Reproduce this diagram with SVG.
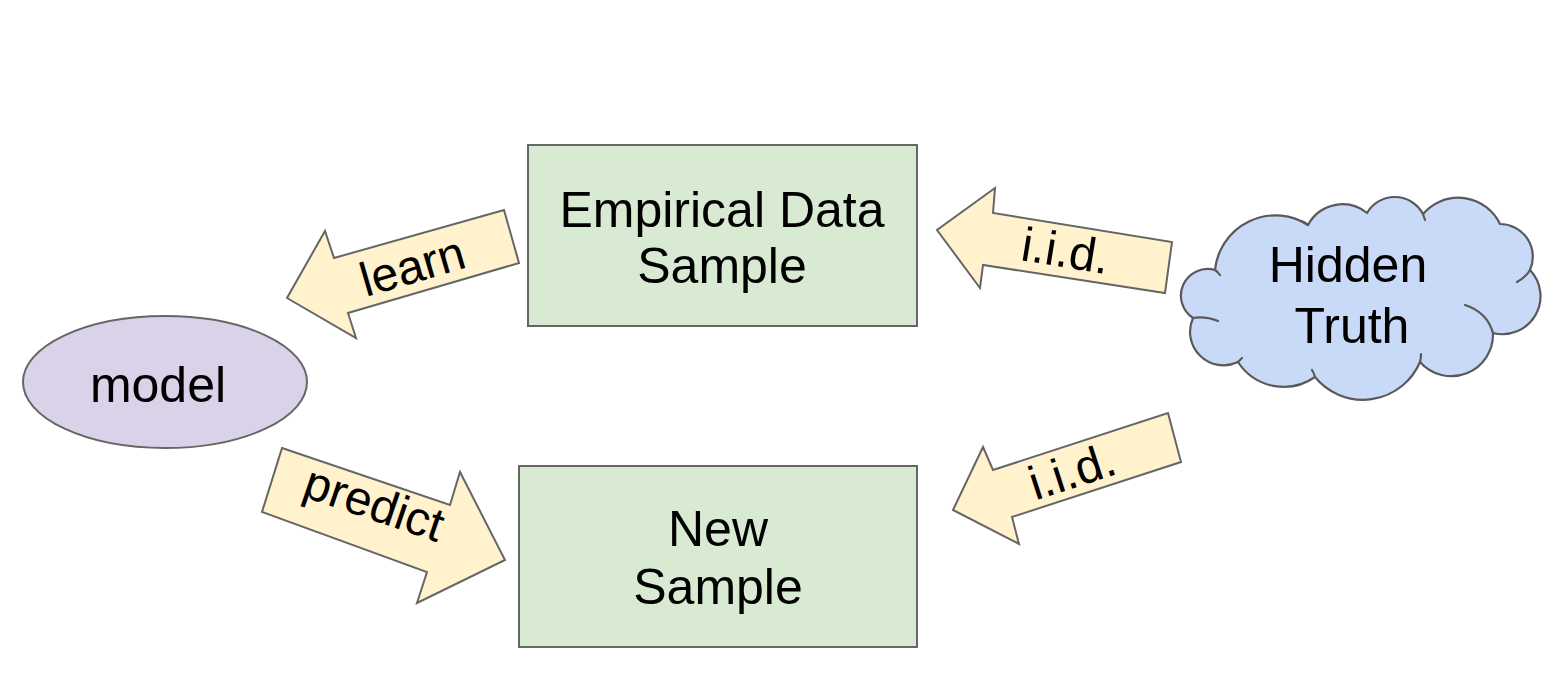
<svg xmlns="http://www.w3.org/2000/svg" width="1554" height="674" viewBox="0 0 1554 674">
<style>
.box{fill:#d9ead3;stroke:#666666;stroke-width:2}
.arrow{fill:#fff2cc;stroke:#666666;stroke-width:2;stroke-linejoin:miter}
.ell{fill:#d9d2e9;stroke:#666666;stroke-width:2}
.cloud{fill:#c9daf8;stroke:#595959;stroke-width:2.2;stroke-linejoin:round}
.tail{fill:none;stroke:#595959;stroke-width:2.2;stroke-linecap:round}
.t{font-family:"Liberation Sans",Arial,Helvetica,sans-serif;font-size:50px;fill:#000;text-anchor:middle}
.a{font-family:"Liberation Sans",Arial,Helvetica,sans-serif;font-size:48px;fill:#000;text-anchor:middle}
</style>
<rect width="1554" height="674" fill="#ffffff"/>
<g id="connectors">
  <g id="learn">
    <polygon class="arrow" points="504,210 519,263 348,313 356,338 287,298 325,231 334,258"/>
    <text class="a" transform="translate(417,282) rotate(-16.2)">learn</text>
  </g>
  <g id="iid-top">
    <polygon class="arrow" points="1172,242 1165,293 983,265 980,288 937,230 995,188 993,213"/>
    <text class="a" transform="translate(1063,267) rotate(9.3)">i.i.d.</text>
  </g>
  <g id="predict">
    <polygon class="arrow" points="282,448 450,505 460,472 505,560 417,603 427,572 262,512"/>
    <text class="a" transform="translate(369,519) rotate(18.8)">predict</text>
  </g>
  <g id="iid-bottom">
    <polygon class="arrow" points="1168,413 1181,462 1012,517 1019,544 953,510 983,447 993,470"/>
    <text class="a" transform="translate(1077,487) rotate(-18)">i.i.d.</text>
  </g>
</g>
<g id="empirical">
  <rect class="box" x="528" y="145" width="389" height="181"/>
  <text class="t" x="722" y="227">Empirical Data</text>
  <text class="t" x="722" y="283">Sample</text>
</g>
<g id="new-sample">
  <rect class="box" x="519" y="466" width="398" height="181"/>
  <text class="t" x="718" y="546">New</text>
  <text class="t" x="718" y="604">Sample</text>
</g>
<g id="model">
  <ellipse class="ell" cx="165" cy="382" rx="142" ry="66"/>
  <text class="t" x="158" y="402">model</text>
</g>
<g id="hidden-truth">
  <path class="cloud" d="M1215,270 A60.6,60.6 0 0 1 1308,225 A39,39 0 0 1 1367,213 A32,32 0 0 1 1423,214 A46.3,46.3 0 0 1 1500,224 A32.7,32.7 0 0 1 1530,270 A38,38 0 0 1 1493,333 A41.7,41.7 0 0 1 1420,362 A61.9,61.9 0 0 1 1315,377 A54.6,54.6 0 0 1 1238,362 A33.5,33.5 0 0 1 1193,318 A26.7,26.7 0 0 1 1215,270 Z"/>
  <path class="tail" d="M1193,318 Q1205,316 1218,321"/>
  <path class="tail" d="M1530,270 Q1526,277 1517,282"/>
  <path class="tail" d="M1493,333 Q1487,312 1465,305"/>
  <path class="tail" d="M1308,225 Q1305,222 1301,221"/>
  <path class="tail" d="M1423,214 Q1424,217 1425,220"/>
  <path class="tail" d="M1315,377 Q1314,373 1312,370"/>
  <path class="tail" d="M1420,362 Q1421,358 1421,354"/>
  <path class="tail" d="M1238,362 Q1240,360 1242,358"/>
  <path class="tail" d="M1215,270 Q1218,272 1220,275"/>
  <text class="t" x="1348" y="282">Hidden</text>
  <text class="t" x="1352" y="343">Truth</text>
</g>
</svg>
